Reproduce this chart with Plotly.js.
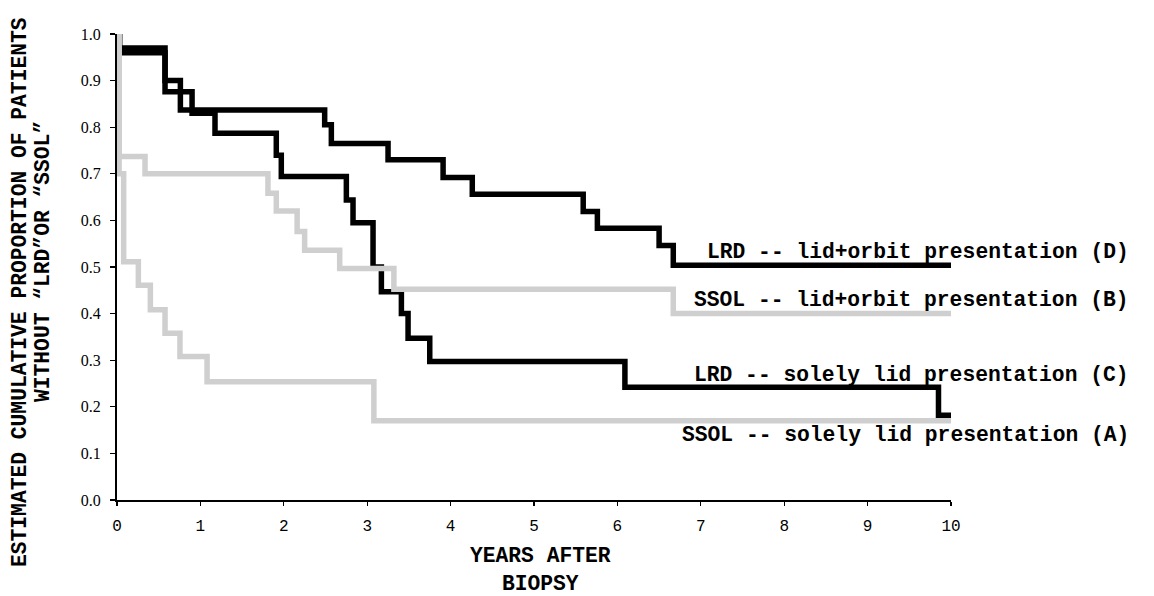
<!DOCTYPE html>
<html>
<head>
<meta charset="utf-8">
<script src="https://cdn.plot.ly/plotly-3.0.1.min.js"></script>
<style>html,body{margin:0;padding:0;background:#fff;}</style>
</head>
<body>
<div id="chart" style="width:1154px;height:596px;"></div>
<script>
// Kaplan-Meier style step curves (years after biopsy, estimated proportion)
const lrdLidOrbitX = [0, 0.03, 0.576, 0.76, 2.49, 2.57, 3.25, 3.91, 4.26, 5.59, 5.76, 6.5, 6.67, 10];
const lrdLidOrbitY = [1.0, 0.97, 0.90, 0.837, 0.805, 0.765, 0.73, 0.692, 0.656, 0.619, 0.583, 0.546, 0.504, 0.504];

const lrdLidX = [0, 0.03, 0.576, 0.90, 1.175, 1.91, 1.97, 2.75, 2.83, 3.07, 3.17, 3.41, 3.49, 3.75, 6.09, 9.85, 10];
const lrdLidY = [1.0, 0.96, 0.876, 0.83, 0.787, 0.74, 0.694, 0.644, 0.595, 0.50, 0.447, 0.40, 0.347, 0.297, 0.242, 0.182, 0.182];

const ssolLidOrbitX = [0, 0.025, 0.336, 1.81, 1.91, 2.16, 2.25, 2.67, 3.32, 6.67, 10];
const ssolLidOrbitY = [1.0, 0.737, 0.70, 0.658, 0.62, 0.576, 0.536, 0.497, 0.452, 0.40, 0.40];

const ssolLidX = [0, 0.025, 0.08, 0.256, 0.40, 0.576, 0.755, 1.08, 3.08, 10];
const ssolLidY = [1.0, 0.70, 0.511, 0.461, 0.408, 0.358, 0.308, 0.254, 0.170, 0.170];

const seriesLabels = [
  "LRD -- lid+orbit presentation (D)",
  "SSOL -- lid+orbit presentation (B)",
  "LRD -- solely lid presentation (C)",
  "SSOL -- solely lid presentation (A)"
];
const labelY = [0.533, 0.430, 0.268, 0.140];

const xTickVals = [0,1,2,3,4,5,6,7,8,9,10];
const yTickVals = [0,0.1,0.2,0.3,0.4,0.5,0.6,0.7,0.8,0.9,1.0];
const yTickText = ["0.0","0.1","0.2","0.3","0.4","0.5","0.6","0.7","0.8","0.9","1.0"];

const xTitle = "YEARS AFTER<br>BIOPSY";
const yTitle1 = "ESTIMATED CUMULATIVE PROPORTION OF PATIENTS";
const yTitle2 = "WITHOUT \u201CLRD\u201DOR \u201CSSOL\u201D";

const BLACK = "#000000";
const GRAY = "#cfcfcf";
const LW = 5.5;
const mono = "'Courier New', 'Liberation Mono', monospace";
const serif = "'Times New Roman', 'Liberation Serif', serif";

function stepTrace(x, y, color) {
  return {x: x, y: y, type: "scatter", mode: "lines",
    line: {shape: "hv", color: color, width: LW},
    hoverinfo: "skip", showlegend: false, cliponaxis: false};
}

const data = [
  stepTrace(lrdLidOrbitX, lrdLidOrbitY, BLACK),
  stepTrace(lrdLidX, lrdLidY, BLACK),
  stepTrace(ssolLidOrbitX, ssolLidOrbitY, GRAY),
  stepTrace(ssolLidX, ssolLidY, GRAY)
];

const annFont = {family: mono, size: 21.3, color: "#000", weight: "bold"};
const annotations = seriesLabels.map((t, i) => ({
  text: t, xref: "paper", yref: "paper", x: 1.216, y: labelY[i],
  xanchor: "right", yanchor: "middle", showarrow: false, font: annFont
}));
annotations.push({text: xTitle, xref: "paper", yref: "paper", x: 0.508, y: -0.150,
  xanchor: "center", yanchor: "middle", showarrow: false, font: annFont});
annotations.push({text: yTitle1, xref: "paper", yref: "paper", x: (20 - 117) / 834, y: (500 - 292) / 466,
  xanchor: "center", yanchor: "middle", textangle: -90, showarrow: false, font: annFont});
annotations.push({text: yTitle2, xref: "paper", yref: "paper", x: (43 - 117) / 834, y: (500 - 262) / 466,
  xanchor: "center", yanchor: "middle", textangle: -90, showarrow: false, font: annFont});

const layout = {
  width: 1154, height: 596,
  margin: {l: 117, r: 203, t: 34, b: 96, pad: 0},
  paper_bgcolor: "#ffffff", plot_bgcolor: "#ffffff",
  showlegend: false,
  xaxis: {
    range: [0, 10], tickvals: xTickVals, ticks: "outside", ticklen: 4, tickwidth: 1.2,
    tickcolor: "#000", showline: true, linecolor: "#000", linewidth: 2,
    showgrid: false, zeroline: false, fixedrange: true,
    tickfont: {family: mono, size: 16, color: "#000"}, ticklabelstandoff: 6
  },
  yaxis: {
    range: [0, 1], tickvals: yTickVals, ticktext: yTickText, ticks: "outside", ticklen: 5, tickwidth: 1.2,
    tickcolor: "#000", showline: true, linecolor: "#000", linewidth: 2,
    showgrid: false, zeroline: false, fixedrange: true,
    tickfont: {family: serif, size: 16, color: "#000"}, ticklabelstandoff: 6
  },
  annotations: annotations
};

Plotly.newPlot("chart", data, layout, {displayModeBar: false, staticPlot: true});
</script>
</body>
</html>
